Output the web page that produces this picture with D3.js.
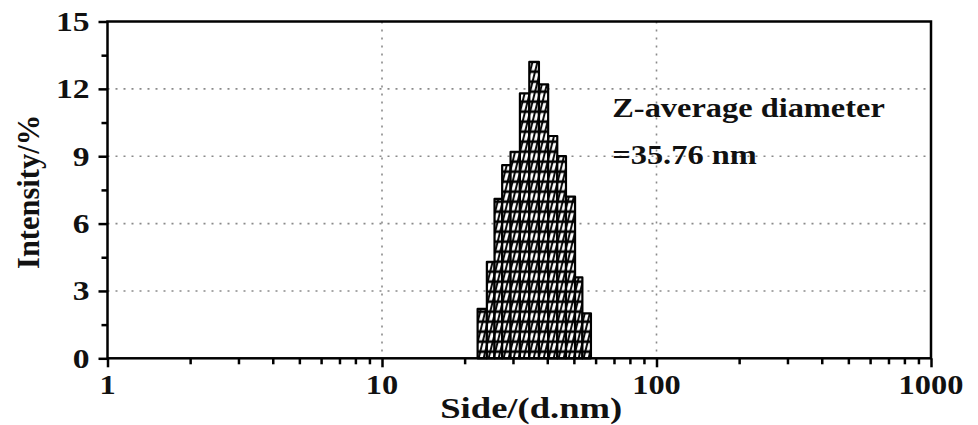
<!DOCTYPE html>
<html>
<head>
<meta charset="utf-8">
<script src="https://cdn.jsdelivr.net/npm/d3@7"></script>
<style>
  html, body { margin: 0; padding: 0; background: #fff; }
  svg { display: block; }
  text { font-family: "Liberation Serif", "Times New Roman", serif; font-weight: bold; fill: #111; }
</style>
</head>
<body>
<svg id="chart"></svg>
<script>
// Дані
const sizeEdges = [22.3, 24.1, 25.7, 27.4, 29.4, 31.8, 34.4, 37.3, 40.3, 43.5, 46.8, 50.5, 53.7, 57.7]; // межі класів, нм
const intensity = [2.2, 4.3, 7.1, 8.6, 9.2, 11.8, 13.2, 12.2, 9.9, 9.0, 7.2, 3.6, 2.0]; // %
const xTicks = [1, 10, 100, 1000];
const xGrid = [10, 100];
const yTicks = [0, 3, 6, 9, 12, 15];
const yMinor = [1.5, 4.5, 7.5, 10.5, 13.5];
const yGrid = [3, 6, 9, 12];
const noteLines = ['Z-average diameter', '=35.76 nm'];

const width = 978, height = 425;
const margin = { top: 21.5, right: 47, bottom: 66.7, left: 107.5 };
const chartWidth = width - margin.left - margin.right;
const chartHeight = height - margin.top - margin.bottom;
const SX = 1.2; // текст на рисунку розтягнутий по горизонталі

const root = d3.select('#chart').attr('width', width).attr('height', height);

// Штрихування стовпчиків
const defs = root.append('defs');
const pat = defs.append('pattern')
  .attr('id', 'hatch')
  .attr('patternUnits', 'userSpaceOnUse')
  .attr('width', 5)
  .attr('height', 10)
  .attr('patternTransform', 'skewX(-14)');
pat.append('rect').attr('width', 5).attr('height', 10).attr('fill', '#000');
pat.append('rect').attr('x', 1.1).attr('y', 1.5).attr('width', 3).attr('height', 7.3).attr('fill', '#fff');

const svg = root.append('g').attr('transform', `translate(${margin.left}, ${margin.top})`);

const xScale = d3.scaleLog().domain([1, 1000]).range([0, chartWidth]);
const yScale = d3.scaleLinear().domain([0, 15]).range([chartHeight, 0]);

function label(g, x, y, str, anchor, size, sx, rotate) {
  return g.append('text')
    .attr('transform', `translate(${x}, ${y}) scale(${sx}, 1)` + (rotate ? ' rotate(-90)' : ''))
    .attr('text-anchor', anchor)
    .style('font-size', size + 'px')
    .text(str);
}

// Сітка
svg.append('g')
  .selectAll('line')
  .data(yGrid)
  .enter()
  .append('line')
  .attr('x1', 0)
  .attr('x2', chartWidth)
  .attr('y1', d => yScale(d))
  .attr('y2', d => yScale(d))
  .style('stroke', '#8a8a8a')
  .style('stroke-width', 1.6)
  .style('stroke-dasharray', '2,6');

svg.append('g')
  .selectAll('line')
  .data(xGrid)
  .enter()
  .append('line')
  .attr('x1', d => xScale(d))
  .attr('x2', d => xScale(d))
  .attr('y1', 0)
  .attr('y2', chartHeight)
  .style('stroke', '#8a8a8a')
  .style('stroke-width', 1.6)
  .style('stroke-dasharray', '2,6');

// Стовпчики
svg.append('g')
  .selectAll('rect')
  .data(intensity)
  .enter()
  .append('rect')
  .attr('x', (d, i) => xScale(sizeEdges[i]))
  .attr('width', (d, i) => xScale(sizeEdges[i + 1]) - xScale(sizeEdges[i]))
  .attr('y', d => yScale(d))
  .attr('height', d => chartHeight - yScale(d))
  .style('fill', 'url(#hatch)')
  .style('stroke', '#000')
  .style('stroke-width', 2.2)
  .style('stroke-linejoin', 'round');

// Рамка
svg.append('rect')
  .attr('width', chartWidth)
  .attr('height', chartHeight)
  .style('fill', 'none')
  .style('stroke', '#000')
  .style('stroke-width', 2.5);

// Осі
const xMinor = [];
[1, 10, 100].forEach(dec => { for (let k = 2; k <= 9; k++) xMinor.push(dec * k); });

const xAxis = svg.append('g').attr('transform', `translate(0, ${chartHeight})`);
xAxis.call(d3.axisBottom(xScale).tickValues(xTicks).tickSize(9).tickFormat(''));
xAxis.append('g').call(d3.axisBottom(xScale).tickValues(xMinor).tickSize(6).tickFormat(''));
xAxis.selectAll('.domain').remove();
xAxis.selectAll('.tick line').style('stroke', '#000').style('stroke-width', 2.5);

const yAxis = svg.append('g');
yAxis.call(d3.axisLeft(yScale).tickValues(yTicks).tickSize(9).tickFormat(''));
yAxis.append('g').call(d3.axisLeft(yScale).tickValues(yMinor).tickSize(6).tickFormat(''));
yAxis.selectAll('.domain').remove();
yAxis.selectAll('.tick line').style('stroke', '#000').style('stroke-width', 2.5);

// Підписи поділок
xTicks.forEach(t => label(svg, xScale(t), chartHeight + 36, String(t), 'middle', 27, SX));
yTicks.forEach(t => label(svg, -18, yScale(t) + 9.5, String(t), 'end', 28, SX));

// Назви осей
label(svg, chartWidth / 2 + 12, chartHeight + 60, 'Side/(d.nm)', 'middle', 30.5, SX);
label(svg, -69, chartHeight / 2 + 2, 'Intensity/%', 'middle', 30.5, 1.02, true);

// Примітка
noteLines.forEach((s, i) => label(svg, xScale(69), 95 + i * 47, s, 'start', 27, SX));
</script>
</body>
</html>
